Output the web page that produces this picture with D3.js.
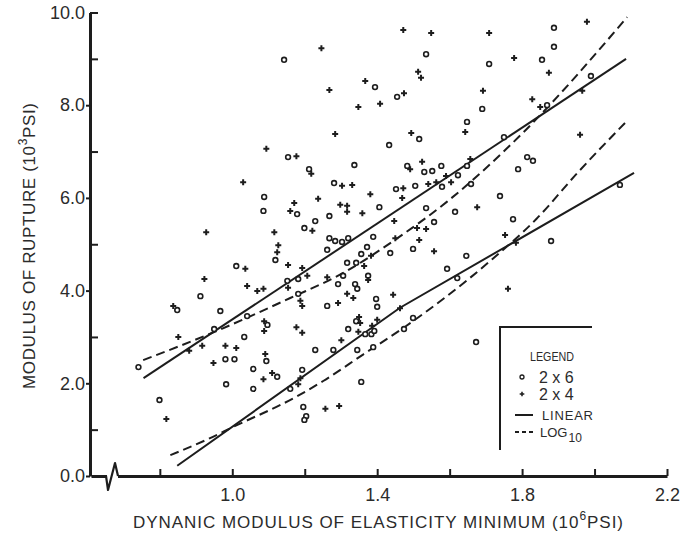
<!DOCTYPE html>
<html>
<head>
<meta charset="utf-8">
<script src="https://cdn.jsdelivr.net/npm/d3@7"></script>
<style>
  body { margin: 0; background: #fff; }
  text { font-family: 'Liberation Sans', Arial, sans-serif; fill: #2b2b2b; }
</style>
</head>
<body>
<div id="chart"></div>
<script>
const ink = '#1d1d1d'

// [MOE minimum (10^6 psi), MOR (10^3 psi)]
const pts2x6 = [
  [0.741, 2.35], [0.799, 1.64], [0.848, 3.58], [0.912, 3.88], [0.950, 3.17], [0.967, 3.56],
  [0.981, 2.52], [1.006, 2.52], [0.983, 1.98], [1.033, 3.00], [1.011, 4.53], [1.041, 3.45],
  [1.058, 2.31], [1.058, 1.88], [1.097, 3.26], [1.094, 2.48], [1.124, 2.14], [1.160, 1.88],
  [1.193, 2.29], [1.196, 1.49], [1.204, 1.29], [1.199, 1.21], [1.229, 2.72], [1.279, 2.72],
  [1.152, 4.21], [1.182, 4.25], [1.182, 3.93], [1.262, 3.67], [1.292, 4.14], [1.306, 4.32],
  [1.143, 8.98], [1.154, 6.88], [1.212, 6.62], [1.281, 6.32], [1.088, 6.02], [1.086, 5.72],
  [1.179, 5.65], [1.229, 5.50], [1.199, 5.35], [1.268, 5.61], [1.268, 5.13], [1.284, 5.07],
  [1.303, 5.05], [1.320, 5.13], [1.262, 4.88], [1.119, 4.66], [1.394, 8.39], [1.535, 9.10],
  [1.455, 8.18], [1.516, 7.27], [1.433, 7.14], [1.337, 6.71], [1.483, 6.69], [1.530, 6.56],
  [1.552, 6.58], [1.577, 6.69], [1.623, 6.49], [1.648, 6.69], [1.648, 7.64], [1.888, 9.67],
  [1.888, 9.26], [1.709, 8.89], [1.855, 8.98], [1.990, 8.63], [1.869, 8.00], [1.690, 7.92],
  [1.814, 6.88], [1.830, 6.80], [1.789, 6.62], [1.659, 6.30], [1.739, 6.04], [1.775, 5.54],
  [1.880, 5.07], [2.070, 6.28], [1.452, 6.19], [1.505, 6.26], [1.579, 6.24], [1.406, 5.80],
  [1.535, 5.78], [1.615, 5.70], [1.557, 5.48], [1.389, 5.16], [1.499, 4.90], [1.372, 4.94],
  [1.356, 4.79], [1.436, 4.81], [1.646, 4.75], [1.342, 4.60], [1.317, 4.60], [1.593, 4.47],
  [1.621, 4.27], [1.375, 4.32], [1.339, 4.14], [1.345, 4.04], [1.397, 3.82], [1.400, 3.65],
  [1.499, 3.41], [1.474, 3.17], [1.673, 2.89], [1.342, 3.34], [1.320, 3.17], [1.367, 3.06],
  [1.384, 3.06], [1.392, 3.13], [1.345, 2.72], [1.389, 2.78], [1.356, 2.03], [1.750, 7.31]
]

const pts2x4 = [
  [0.818, 1.23], [0.837, 3.67], [0.851, 3.00], [0.881, 2.70], [0.917, 2.81], [0.923, 4.25],
  [0.948, 2.44], [0.981, 2.81], [1.011, 2.76], [1.036, 4.47], [1.041, 4.10], [1.069, 3.99],
  [1.086, 4.04], [1.088, 3.34], [1.088, 3.13], [1.091, 2.63], [1.110, 2.22], [1.086, 2.09],
  [1.182, 1.98], [1.188, 2.11], [1.177, 3.21], [1.193, 3.09], [1.257, 1.45], [1.295, 1.51],
  [1.154, 4.06], [1.207, 4.32], [1.188, 3.78], [1.193, 3.67], [1.292, 3.73], [1.154, 4.55],
  [1.193, 4.49], [1.030, 6.34], [0.928, 5.26], [1.116, 5.26], [1.127, 4.98], [1.124, 4.83],
  [1.171, 5.89], [1.160, 5.72], [1.094, 7.06], [1.177, 6.90], [1.246, 9.23], [1.268, 8.33],
  [1.284, 7.38], [1.218, 6.52], [1.303, 6.26], [1.331, 6.28], [1.237, 5.98], [1.298, 5.85],
  [1.317, 5.83], [1.317, 5.70], [1.221, 5.29], [1.472, 9.62], [1.549, 9.56], [1.709, 9.56],
  [1.979, 9.80], [1.778, 9.02], [1.874, 8.70], [1.367, 8.52], [1.513, 8.72], [1.521, 8.59],
  [1.474, 8.26], [1.348, 7.96], [1.408, 8.03], [1.692, 8.31], [1.828, 8.13], [1.850, 7.96],
  [1.966, 8.31], [1.643, 7.42], [1.494, 7.40], [1.960, 7.36], [1.524, 6.78], [1.491, 6.62],
  [1.590, 6.47], [1.657, 6.84], [1.604, 6.34], [1.381, 6.08], [1.472, 6.21], [1.541, 6.30],
  [1.563, 6.34], [1.469, 6.00], [1.359, 5.67], [1.447, 5.50], [1.510, 5.35], [1.535, 5.33],
  [1.450, 5.13], [1.516, 5.09], [1.557, 4.85], [1.383, 4.75], [1.364, 4.53], [1.676, 5.80],
  [1.753, 5.20], [1.783, 5.03], [1.761, 4.04], [1.375, 4.23], [1.317, 3.93], [1.334, 3.84],
  [1.444, 3.91], [1.262, 4.29], [1.350, 3.43], [1.353, 3.30], [1.348, 3.11], [1.400, 3.37],
  [1.301, 2.93], [1.463, 3.62], [1.386, 3.24]
]

// fitted lines
const linearUpper = [[0.755, 2.11], [2.087, 9.00]]
const linearLower = [[0.848, 0.22], [1.463, 3.63], [2.109, 6.54]]
const logUpper = [[0.754, 2.50], [0.948, 3.10], [1.160, 3.84], [1.306, 4.38], [1.450, 5.10],
  [1.593, 5.92], [1.808, 7.45], [2.090, 9.90]]
const logLower = [[0.829, 0.45], [0.934, 0.80], [1.000, 1.05], [1.179, 1.72], [1.251, 2.05],
  [1.361, 2.62], [1.477, 3.22], [1.706, 4.60], [1.840, 5.55], [1.954, 6.55], [2.092, 7.68]]

const xTicks = [0.8, 1.0, 1.2, 1.4, 1.6, 1.8, 2.0, 2.2]
const xLabels = [1.0, 1.4, 1.8, 2.2]
const yLabels = [0, 2, 4, 6, 8, 10]
const yMinor = [1, 3, 5, 7, 9]

const width = 690
const height = 533

const svg = d3.select('#chart')
  .append('svg')
  .attr('width', width)
  .attr('height', height)

const x = d3.scaleLinear().domain([0.61, 2.2]).range([91, 667])
const y = d3.scaleLinear().domain([0, 10]).range([476, 12.5])
const axisX = 90

// y axis
const gy = svg.append('g')
  .attr('transform', 'translate(' + axisX + ',0)')
  .call(d3.axisLeft(y).tickValues(yLabels).tickSize(4).tickSizeOuter(0).tickPadding(1)
    .tickFormat(d3.format('.1f')))
gy.selectAll('.tick line').attr('stroke', ink).attr('stroke-width', 2)
gy.selectAll('.tick line').filter(d => d === 10).attr('x2', 8)
gy.select('.domain').attr('stroke', ink).attr('stroke-width', 3)
gy.selectAll('text').attr('font-size', 18).attr('fill', '#333')

const gyMinor = svg.append('g')
  .attr('transform', 'translate(' + axisX + ',0)')
  .call(d3.axisRight(y).tickValues(yMinor).tickSize(8).tickFormat(''))
gyMinor.select('.domain').remove()
gyMinor.selectAll('.tick line').attr('stroke', ink).attr('stroke-width', 2)

// x axis
const gx = svg.append('g')
  .attr('transform', 'translate(0,' + y(0) + ')')
  .call(d3.axisBottom(x).tickValues(xTicks).tickSize(-7).tickSizeOuter(0).tickPadding(12)
    .tickFormat(d => xLabels.includes(d) ? d3.format('.1f')(d) : ''))
gx.select('.domain').attr('stroke', ink).attr('stroke-width', 3)
gx.selectAll('.tick line').attr('stroke', ink).attr('stroke-width', 2)
gx.selectAll('text').attr('font-size', 18).attr('fill', '#333')

// axis break
const bx = x(0.668)
svg.append('rect')
  .attr('x', bx - 5).attr('y', y(0) - 3).attr('width', 11).attr('height', 6)
  .attr('fill', '#fff')
svg.append('path')
  .attr('d', `M${bx - 6},${y(0)} L${bx - 4},${y(0) + 14} L${bx + 3},${y(0) - 13} L${bx + 6},${y(0)}`)
  .attr('fill', 'none')
  .attr('stroke', ink)
  .attr('stroke-width', 2.2)
  .attr('stroke-linejoin', 'round')

// titles
const xTitle = svg.append('text')
  .attr('x', 378)
  .attr('y', 528)
  .attr('text-anchor', 'middle')
  .attr('font-size', 17)
  .attr('textLength', 490)
  .attr('lengthAdjust', 'spacing')
xTitle.append('tspan').text('DYNANIC MODULUS OF ELASTICITY MINIMUM (10')
xTitle.append('tspan').attr('dy', -8).attr('font-size', 12).text('6')
xTitle.append('tspan').attr('dy', 8).text('PSI)')

const yTitle = svg.append('text')
  .attr('transform', 'translate(35,246) rotate(-90)')
  .attr('text-anchor', 'middle')
  .attr('font-size', 17)
  .attr('textLength', 286)
  .attr('lengthAdjust', 'spacing')
yTitle.append('tspan').text('MODULUS OF RUPTURE (10')
yTitle.append('tspan').attr('dy', -8).attr('font-size', 12).text('3')
yTitle.append('tspan').attr('dy', 8).text('PSI)')

// fitted curves
const straight = d3.line().x(d => x(d[0])).y(d => y(d[1]))
const smooth = d3.line().x(d => x(d[0])).y(d => y(d[1])).curve(d3.curveMonotoneX)

svg.selectAll('path.linear')
  .data([linearUpper, linearLower])
  .enter()
  .append('path')
  .classed('linear', true)
  .attr('d', straight)
  .attr('fill', 'none')
  .attr('stroke', ink)
  .attr('stroke-width', 2)

svg.selectAll('path.log')
  .data([logUpper, logLower])
  .enter()
  .append('path')
  .classed('log', true)
  .attr('d', smooth)
  .attr('fill', 'none')
  .attr('stroke', ink)
  .attr('stroke-width', 2)
  .attr('stroke-dasharray', '9,5')

// points
svg.selectAll('circle.s26')
  .data(pts2x6)
  .enter()
  .append('circle')
  .classed('s26', true)
  .attr('cx', d => x(d[0]))
  .attr('cy', d => y(d[1]))
  .attr('r', 2.4)
  .attr('fill', '#fff')
  .attr('stroke', ink)
  .attr('stroke-width', 1.6)

const cross = d3.symbol(d3.symbolCross, 20)
svg.selectAll('path.s24')
  .data(pts2x4)
  .enter()
  .append('path')
  .classed('s24', true)
  .attr('d', cross)
  .attr('transform', d => `translate(${x(d[0])},${y(d[1])})`)
  .attr('fill', ink)

// legend
const legend = svg.append('g').attr('transform', 'translate(500,327)')
legend.append('path')
  .attr('d', 'M92,0 H0 V123')
  .attr('fill', 'none')
  .attr('stroke', ink)
  .attr('stroke-width', 2)
legend.append('text')
  .attr('x', 30).attr('y', 34)
  .attr('font-size', 13)
  .attr('textLength', 44)
  .attr('lengthAdjust', 'spacingAndGlyphs')
  .text('LEGEND')

legend.append('circle')
  .attr('cx', 22).attr('cy', 50).attr('r', 2)
  .attr('fill', '#fff').attr('stroke', ink).attr('stroke-width', 1.3)
legend.append('text').attr('x', 39).attr('y', 56).attr('font-size', 16).text('2 x 6')

legend.append('path')
  .attr('d', d3.symbol(d3.symbolCross, 12))
  .attr('transform', 'translate(22,67)')
  .attr('fill', ink)
legend.append('text').attr('x', 39).attr('y', 73).attr('font-size', 16).text('2 x 4')

legend.append('line')
  .attr('x1', 15).attr('x2', 33).attr('y1', 88).attr('y2', 88)
  .attr('stroke', ink).attr('stroke-width', 2)
legend.append('text')
  .attr('x', 42).attr('y', 93)
  .attr('font-size', 13)
  .attr('textLength', 51)
  .attr('lengthAdjust', 'spacing')
  .text('LINEAR')

legend.append('line')
  .attr('x1', 15).attr('x2', 34).attr('y1', 105).attr('y2', 105)
  .attr('stroke', ink).attr('stroke-width', 2)
  .attr('stroke-dasharray', '4,3')
const logText = legend.append('text').attr('x', 40).attr('y', 110).attr('font-size', 13)
logText.append('tspan').text('LOG')
logText.append('tspan').attr('dy', 5).attr('dx', 1).attr('font-size', 12).text('10')
</script>
</body>
</html>
